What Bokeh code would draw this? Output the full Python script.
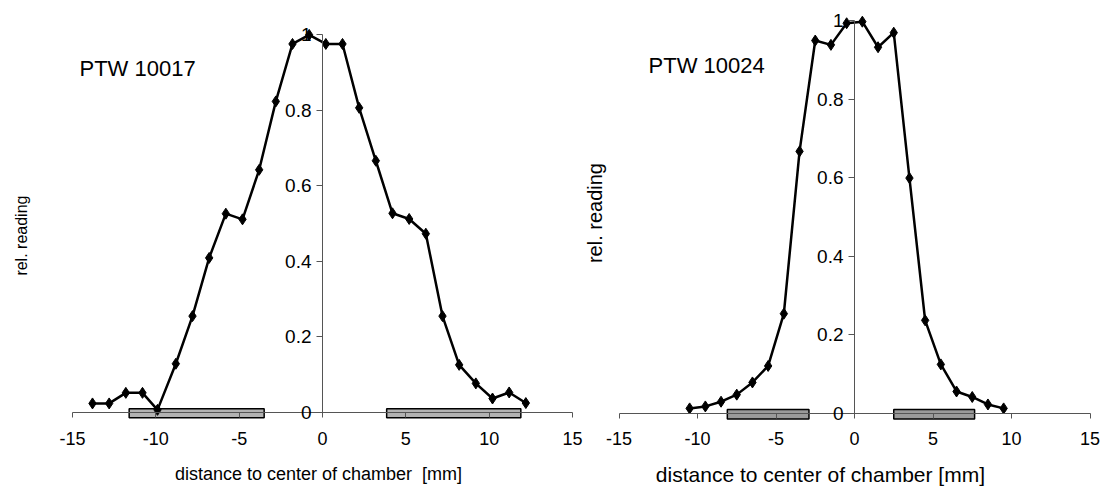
from bokeh.plotting import figure
from bokeh.models import LinearAxis, FixedTicker, NumeralTickFormatter, Range1d, Label
from bokeh.layouts import row
from bokeh.embed import file_html
from bokeh.resources import INLINE

# ---------------- data ----------------
# PTW 10017
x_10017 = [-13.8, -12.8, -11.8, -10.8, -9.9, -8.8, -7.8, -6.8, -5.8, -4.8, -3.8, -2.8, -1.8, -0.8,
           0.2, 1.2, 2.2, 3.2, 4.2, 5.2, 6.2, 7.2, 8.2, 9.2, 10.2, 11.2, 12.2]
y_10017 = [0.024, 0.024, 0.052, 0.052, 0.007, 0.129, 0.255, 0.409, 0.526, 0.511, 0.642, 0.823, 0.975, 0.999,
           0.975, 0.975, 0.806, 0.666, 0.527, 0.512, 0.473, 0.255, 0.126, 0.077, 0.037, 0.053, 0.025]
bars_10017_left = [-11.6, 3.85]
bars_10017_right = [-3.5, 11.9]

# PTW 10024
x_10024 = [-10.5, -9.5, -8.5, -7.5, -6.5, -5.5, -4.5, -3.5, -2.5, -1.5, -0.5,
           0.5, 1.5, 2.5, 3.5, 4.5, 5.5, 6.5, 7.5, 8.5, 9.5]
y_10024 = [0.013, 0.018, 0.030, 0.048, 0.079, 0.121, 0.254, 0.667, 0.949, 0.938, 0.993,
           0.997, 0.932, 0.969, 0.599, 0.237, 0.125, 0.056, 0.042, 0.023, 0.013]
bars_10024_left = [-8.1, 2.5]
bars_10024_right = [-2.9, 7.65]

x_ticks = [-15, -10, -5, 0, 5, 10, 15]
x_tick_labels = ["-15", "-10", "-5", "0", "5", "10", "15"]
y_ticks = [0, 0.2, 0.4, 0.6, 0.8, 1]

FONT = "Liberation Sans"
HEIGHT = 488


def make_panel(xs, ys, bl, br, bar_color, title, fig_left, fig_w, x0_px, x_scale, y0_px, y_scale,
               title_pos, ylab_pos, ylab_size, xlab_pos, xlab_size, xlab_text, label_axis_px):
    # ranges chosen so that the frame fills the whole figure
    x_lo = (fig_left - x0_px) / x_scale
    x_hi = (fig_left + fig_w - x0_px) / x_scale
    y_hi = y0_px / y_scale
    y_lo = (y0_px - HEIGHT) / y_scale
    p = figure(width=fig_w, height=HEIGHT,
               x_range=Range1d(x_lo, x_hi), y_range=Range1d(y_lo, y_hi),
               output_backend="svg", toolbar_location=None,
               x_axis_location=None, y_axis_location=None, min_border=0)
    p.outline_line_color = None
    p.grid.visible = False

    # y axis crossing at x=0
    yax = LinearAxis(fixed_location=0, ticker=FixedTicker(ticks=y_ticks),
                     formatter=NumeralTickFormatter(format="0.[0]"), bounds=(0, 1),
                     axis_line_color="#555555", axis_line_width=1,
                     major_tick_line_color="#555555", major_tick_out=6, major_tick_in=0,
                     minor_tick_line_color=None,
                     major_label_text_font=FONT, major_label_text_font_size="19px",
                     major_label_text_color="black", major_label_standoff=5)
    p.add_layout(yax, "left")

    # x axis line at y=0 (no labels)
    xax = LinearAxis(fixed_location=0, ticker=FixedTicker(ticks=x_ticks), bounds=(-15, 15),
                     axis_line_color="#555555", axis_line_width=1,
                     major_tick_line_color="#555555", major_tick_out=5, major_tick_in=0,
                     minor_tick_line_color=None, major_label_text_color=None)
    p.add_layout(xax, "below")

    # x tick labels placed low, below the bars
    xlab = LinearAxis(fixed_location=(y0_px - label_axis_px) / y_scale,
                      ticker=FixedTicker(ticks=x_ticks),
                      major_label_overrides={t: s for t, s in zip(x_ticks, x_tick_labels)},
                      axis_line_color=None,
                      major_tick_line_color=None, minor_tick_line_color=None,
                      major_tick_out=0, major_tick_in=0, major_label_standoff=6,
                      major_label_text_font=FONT, major_label_text_font_size="18px",
                      major_label_text_color="black")
    p.add_layout(xlab, "below")

    p.quad(left=bl, right=br, top=[0.01] * len(bl), bottom=[-0.014] * len(bl),
           fill_color=bar_color, line_color="black", line_width=1.5)
    p.line(xs, ys, line_color="black", line_width=2.5)
    p.scatter(xs, ys, marker="diamond", size=11, fill_color="black", line_color="black")

    p.add_layout(Label(x=title_pos[0], y=title_pos[1], text=title, text_font=FONT,
                       text_font_size="22px", text_align="left", text_baseline="middle",
                       text_color="black"))
    p.add_layout(Label(x=ylab_pos[0], y=ylab_pos[1], text="rel. reading", text_font=FONT,
                       text_font_size=ylab_size, text_align="center", text_baseline="middle",
                       angle=1.5708, text_color="black"))
    p.add_layout(Label(x=xlab_pos[0], y=xlab_pos[1], text=xlab_text, text_font=FONT,
                       text_font_size=xlab_size, text_align="center", text_baseline="middle",
                       text_color="black"))
    return p


p1 = make_panel(x_10017, y_10017, bars_10017_left, bars_10017_right, "#b3b3b3", "PTW 10017",
                0, 583, 322, 16.667, 412, 378,
                (-14.58, 0.91), (-18.06, 0.468), "16px", (-0.24, -0.164), "18px",
                "distance to center of chamber \u00a0[mm]", 425)
p2 = make_panel(x_10024, y_10024, bars_10024_left, bars_10024_right, "#9a9a9a", "PTW 10024",
                583, 517, 854, 15.7, 413, 393,
                (-13.12, 0.885), (-16.56, 0.51), "20px", (-2.17, -0.155), "21px",
                "distance to center of chamber [mm]", 425)

layout = row(p1, p2)
open("out.html", "w").write(file_html(layout, INLINE))
